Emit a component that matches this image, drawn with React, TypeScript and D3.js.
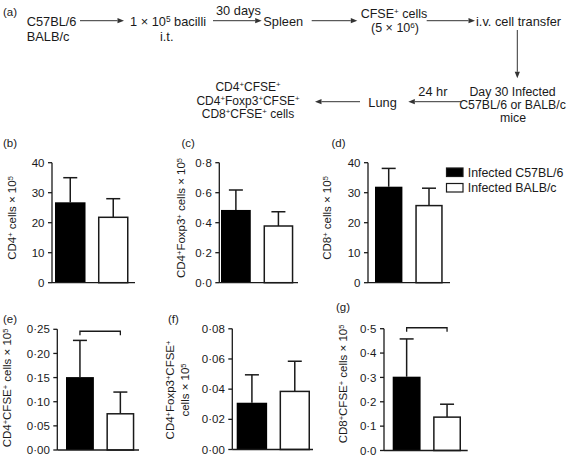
import React from "react";
import * as d3 from "d3";

// ---------- DATA ----------
const groups = ["Infected C57BL/6", "Infected BALB/c"];

const cd4Means = [26.8, 21.8];
const cd4Sd = [8.2, 6.2];
const cd4Ticks = [0, 10, 20, 30, 40];

const tregMeans = [0.485, 0.378];
const tregSd = [0.133, 0.095];
const tregTicks = [0, 0.2, 0.4, 0.6, 0.8];

const cd8Means = [32.0, 25.7];
const cd8Sd = [6.1, 5.8];
const cd8Ticks = [0, 10, 20, 30, 40];

const cd4CfseMeans = [0.151, 0.075];
const cd4CfseSd = [0.076, 0.045];
const cd4CfseTicks = [0, 0.05, 0.1, 0.15, 0.2, 0.25];
const cd4CfseBracket = 0.246;

const tregCfseMeans = [0.031, 0.0385];
const tregCfseSd = [0.0185, 0.02];
const tregCfseTicks = [0, 0.02, 0.04, 0.06, 0.08];

const cd8CfseMeans = [0.303, 0.137];
const cd8CfseSd = [0.155, 0.053];
const cd8CfseTicks = [0, 0.1, 0.2, 0.3, 0.4, 0.5];
const cd8CfseBracket = 0.504;

const FONT = "'Liberation Sans', Arial, Helvetica, sans-serif";
const INK = "#1a1a1a";

// ---------- helpers ----------
function Rich({ s, fs }: { s: string; fs: number }) {
  const parts = s.split(/(\{[^}]*\})/).filter((p) => p.length > 0);
  let prevSup = false;
  const raise = fs * 0.3;
  return (
    <>
      {parts.map((p, i) => {
        if (p.startsWith("{")) {
          const el = (
            <tspan key={i} dy={prevSup ? 0 : -raise} fontSize={fs * 0.65}>
              {p.slice(1, -1)}
            </tspan>
          );
          prevSup = true;
          return el;
        }
        const el = (
          <tspan key={i} dy={prevSup ? raise : 0}>
            {p}
          </tspan>
        );
        prevSup = false;
        return el;
      })}
    </>
  );
}

function Arrow({ x1, y1, x2, y2 }: { x1: number; y1: number; x2: number; y2: number }) {
  const ang = Math.atan2(y2 - y1, x2 - x1);
  const L = 6.5;
  const W = 2.6;
  const bx = x2 - L * Math.cos(ang);
  const by = y2 - L * Math.sin(ang);
  const px = -Math.sin(ang) * W;
  const py = Math.cos(ang) * W;
  return (
    <g>
      <line x1={x1} y1={y1} x2={bx} y2={by} stroke="#333" strokeWidth={1} />
      <path d={`M${x2},${y2}L${bx + px},${by + py}L${bx - px},${by - py}Z`} fill="#333" />
    </g>
  );
}

type Panel = {
  means: number[];
  sds: number[];
  ticks: number[];
  digits: number;
  axisX: number;
  xEnd: number;
  yTop: number;
  yBot: number;
  barRange: [number, number];
  pad: number;
  bracket?: number;
  letter: string;
  letterX: number;
  letterY: number;
  titles: string[];
  titleX: number[];
  titleY: number;
};

const panels: Panel[] = [
  {
    means: cd4Means, sds: cd4Sd, ticks: cd4Ticks, digits: 0,
    axisX: 52, xEnd: 135, yTop: 162.7, yBot: 282.7, barRange: [55, 128.5], pad: 0.29,
    letter: "(b)", letterX: 3, letterY: 147,
    titles: ["CD4{+} cells × 10{5}"], titleX: [16], titleY: 218,
  },
  {
    means: tregMeans, sds: tregSd, ticks: tregTicks, digits: 1,
    axisX: 219.3, xEnd: 298, yTop: 162.7, yBot: 282.7, barRange: [221, 293.3], pad: 0.3,
    letter: "(c)", letterX: 181.5, letterY: 147,
    titles: ["CD4{+}Foxp3{+} cells × 10{5}"], titleX: [185], titleY: 218,
  },
  {
    means: cd8Means, sds: cd8Sd, ticks: cd8Ticks, digits: 0,
    axisX: 368, xEnd: 450, yTop: 162.7, yBot: 282.7, barRange: [375, 442.7], pad: 0.32,
    letter: "(d)", letterX: 331.5, letterY: 147,
    titles: ["CD8{+} cells × 10{5}"], titleX: [331], titleY: 218,
  },
  {
    means: cd4CfseMeans, sds: cd4CfseSd, ticks: cd4CfseTicks, digits: 2,
    axisX: 57.3, xEnd: 139, yTop: 329.3, yBot: 450, barRange: [66, 134.3], pad: 0.31,
    bracket: cd4CfseBracket,
    letter: "(e)", letterX: 3, letterY: 323,
    titles: ["CD4{+}CFSE{+} cells × 10{5}"], titleX: [11], titleY: 388,
  },
  {
    means: tregCfseMeans, sds: tregCfseSd, ticks: tregCfseTicks, digits: 2,
    axisX: 232.3, xEnd: 313, yTop: 328.8, yBot: 449.5, barRange: [236.7, 310], pad: 0.29,
    letter: "(f)", letterX: 168, letterY: 323,
    titles: ["CD4{+}Foxp3{+}CFSE{+}", "cells × 10{5}"], titleX: [174, 189], titleY: 390,
  },
  {
    means: cd8CfseMeans, sds: cd8CfseSd, ticks: cd8CfseTicks, digits: 1,
    axisX: 384, xEnd: 467.7, yTop: 328.7, yBot: 450.5, barRange: [392.7, 461], pad: 0.31,
    bracket: cd8CfseBracket,
    letter: "(g)", letterX: 336, letterY: 311,
    titles: ["CD8{+}CFSE{+} cells × 10{5}"], titleX: [347], titleY: 384,
  },
];

function BarPanel({ p }: { p: Panel }) {
  const max = p.ticks[p.ticks.length - 1];
  const y = d3.scaleLinear().domain([0, max]).range([p.yBot, p.yTop]);
  const x = d3.scaleBand<number>().domain([0, 1]).range(p.barRange).paddingInner(p.pad).paddingOuter(0);
  const bw = x.bandwidth();
  const fmt = (v: number) => d3.format(`.${p.digits}f`)(v).replace(".", "·");
  const tickFs = 11.5;
  const cap = 7;
  return (
    <g>
      <text x={p.letterX} y={p.letterY} fontSize={11.5} fill={INK}>{p.letter}</text>
      {p.titles.map((t, i) => (
        <text
          key={i}
          transform={`translate(${p.titleX[i]},${p.titleY}) rotate(-90)`}
          textAnchor="middle"
          fontSize={11.5}
          fill={INK}
        >
          <Rich s={t} fs={11.5} />
        </text>
      ))}
      {p.means.map((m, i) => {
        const x0 = x(i)!;
        const cx = x0 + bw / 2;
        const top = y(m);
        const errTop = y(m + p.sds[i]);
        return (
          <g key={i}>
            <line x1={cx} x2={cx} y1={top} y2={errTop} stroke={INK} strokeWidth={1.5} />
            <line x1={cx - cap} x2={cx + cap} y1={errTop} y2={errTop} stroke={INK} strokeWidth={1.5} />
            <rect
              x={x0 + (i === 1 ? 0.75 : 0)}
              y={top}
              width={bw - (i === 1 ? 1.5 : 0)}
              height={p.yBot - top}
              fill={i === 0 ? "#000" : "#fff"}
              stroke={i === 0 ? "none" : INK}
              strokeWidth={1.5}
            />
          </g>
        );
      })}
      {p.bracket !== undefined && (() => {
        const by = y(p.bracket);
        const c0 = x(0)! + bw / 2;
        const c1 = x(1)! + bw / 2;
        return (
          <path
            d={`M${c0},${by + 4}V${by}H${c1}V${by + 4}`}
            fill="none"
            stroke={INK}
            strokeWidth={1.3}
          />
        );
      })()}
      <line x1={p.axisX} x2={p.axisX} y1={p.yTop} y2={p.yBot} stroke={INK} strokeWidth={1.3} />
      <line x1={p.axisX} x2={p.xEnd} y1={p.yBot} y2={p.yBot} stroke={INK} strokeWidth={1.3} />
      {p.ticks.map((t, i) => (
        <g key={i}>
          <line x1={p.axisX - 4} x2={p.axisX} y1={y(t)} y2={y(t)} stroke={INK} strokeWidth={1.3} />
          <text
            x={p.axisX - 7.5}
            y={y(t)}
            dy="0.36em"
            textAnchor="end"
            fontSize={tickFs}
            fill={INK}
          >
            {fmt(t)}
          </text>
        </g>
      ))}
    </g>
  );
}

export default function App() {
  const fs = 12.8;
  const bs = 12;
  return (
    <svg
      width={570}
      height={459}
      style={{ position: "absolute", left: 0, top: 0, background: "#fff" }}
      fontFamily={FONT}
    >
      <rect x={0} y={0} width={570} height={459} fill="#fff" />
      <g fill={INK} fontSize={fs}>
        <text x={3} y={15.5} fontSize={11.5}>(a)</text>
        <text x={26.7} y={25.5}>C57BL/6</text>
        <text x={26.7} y={40.5}>BALB/c</text>
        <Arrow x1={80} y1={20.7} x2={124} y2={20.7} />
        <text x={130} y={25.5}><Rich s={"1 × 10{5} bacilli"} fs={fs} /></text>
        <text x={166.7} y={40.5} textAnchor="middle">i.t.</text>
        <text x={216} y={14.5}>30 days</text>
        <Arrow x1={213} y1={20.7} x2={261.7} y2={20.7} />
        <text x={263.3} y={25.5}>Spleen</text>
        <Arrow x1={311.7} y1={20.7} x2={357.3} y2={20.7} />
        <text x={394} y={18} textAnchor="middle" fontSize={bs + 0.5}><Rich s={"CFSE{+} cells"} fs={bs + 0.5} /></text>
        <text x={395} y={31.8} textAnchor="middle" fontSize={bs + 0.5}><Rich s={"(5 × 10{6})"} fs={bs + 0.5} /></text>
        <Arrow x1={426.7} y1={20.7} x2={475} y2={20.7} />
        <text x={476} y={25.5}>i.v. cell transfer</text>
        <Arrow x1={517.3} y1={30} x2={517.3} y2={78.3} />
        <g fontSize={bs + 0.3}>
          <text x={512.5} y={95.5} textAnchor="middle">Day 30 Infected</text>
          <text x={512.5} y={109} textAnchor="middle">C57BL/6 or BALB/c</text>
          <text x={513} y={122.3} textAnchor="middle">mice</text>
        </g>
        <text x={418.3} y={96}>24 hr</text>
        <Arrow x1={461.7} y1={101.7} x2={408.3} y2={101.7} />
        <text x={368.3} y={106.5}>Lung</text>
        <Arrow x1={360} y1={101.7} x2={315} y2={101.7} />
        <g fontSize={bs}>
          <text x={248} y={91} textAnchor="middle"><Rich s={"CD4{+}CFSE{+}"} fs={bs} /></text>
          <text x={248} y={104.5} textAnchor="middle"><Rich s={"CD4{+}Foxp3{+}CFSE{+}"} fs={bs} /></text>
          <text x={248} y={118} textAnchor="middle"><Rich s={"CD8{+}CFSE{+} cells"} fs={bs} /></text>
        </g>
      </g>

      {panels.map((p, i) => (
        <BarPanel key={i} p={p} />
      ))}

      <g fontSize={12.4} fill={INK}>
        {groups.map((g, i) => (
          <g key={i}>
            <rect
              x={446.5}
              y={168 + i * 15.5}
              width={16.5}
              height={8.5}
              fill={i === 0 ? "#000" : "#fff"}
              stroke={INK}
              strokeWidth={1.2}
            />
            <text x={467.7} y={177 + i * 14.5}>{g}</text>
          </g>
        ))}
      </g>
    </svg>
  );
}
